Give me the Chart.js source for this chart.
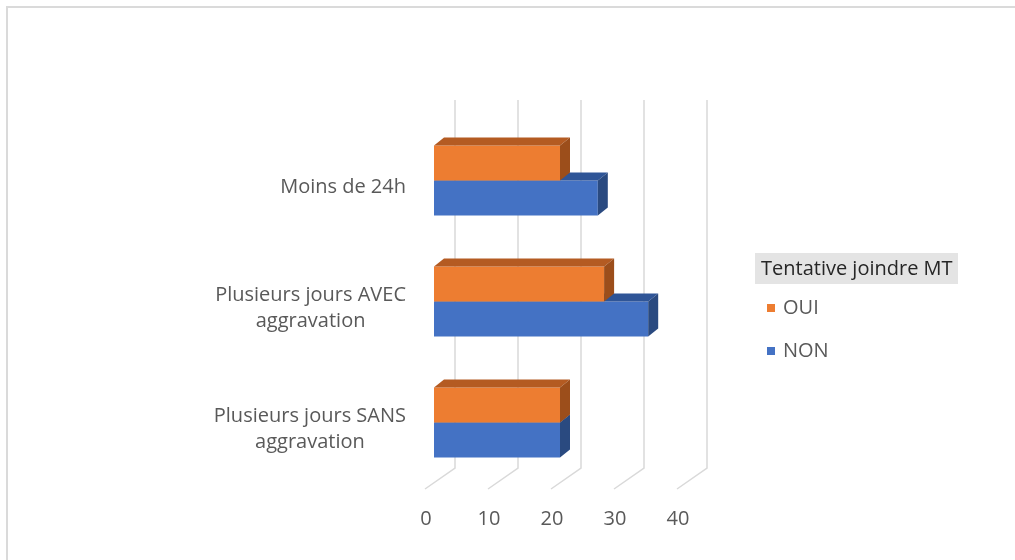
<!DOCTYPE html>
<html>
<head>
<meta charset="utf-8">
<script src="https://cdn.jsdelivr.net/npm/chart.js@4"></script>
<style>
  html, body { margin: 0; padding: 0; background: #fff; }
  canvas { display: block; }
</style>
</head>
<body>
<canvas id="graphique" width="1015" height="560"></canvas>
<script>
const categories = ['Moins de 24h', ['Plusieurs jours AVEC', 'aggravation'], ['Plusieurs jours SANS', 'aggravation']];
const serieOui = [20, 27, 20];
const serieNon = [26, 34, 20];
const ticksX = [0, 10, 20, 30, 40];
const titreLegende = 'Tentative joindre MT';

const POLICE = '"Open Sans", "DejaVu Sans", sans-serif';
const PROF_X = 10, PROF_Y = -8; // profondeur des barres 3D

// couleurs des faces (dessus, côté)
const faces = {
  OUI: { top: '#B45B22', side: '#9C4E1B' },
  NON: { top: '#2F5597', side: '#2A4A80' }
};

// cadre gris haut / gauche
const pluginCadre = {
  id: 'cadre',
  beforeDraw(chart) {
    const ctx = chart.ctx;
    ctx.save();
    ctx.fillStyle = '#DADADA';
    ctx.fillRect(6, 6, chart.width, 2);
    ctx.fillRect(6, 6, 2, chart.height);
    ctx.restore();
  }
};

// grille du fond + sol (effet 3D)
const pluginGrille = {
  id: 'grille3d',
  beforeDatasetsDraw(chart) {
    const { ctx, chartArea, scales } = chart;
    ctx.save();
    ctx.strokeStyle = '#D9D9D9';
    ctx.lineWidth = 1.5;
    scales.x.ticks.forEach(t => {
      const x = scales.x.getPixelForValue(t.value);
      ctx.beginPath();
      ctx.moveTo(x + 21, chartArea.top - 20);
      ctx.lineTo(x + 21, chartArea.bottom - 15);
      ctx.lineTo(x - 9, chartArea.bottom + 6);
      ctx.stroke();
    });
    ctx.restore();
  }
};

// faces dessus / côté des barres
const pluginBarres3d = {
  id: 'barres3d',
  afterDatasetDraw(chart, args) {
    const ctx = chart.ctx;
    const ds = chart.data.datasets[args.index];
    const f = faces[ds.label];
    ctx.save();
    args.meta.data.forEach(bar => {
      const gauche = Math.min(bar.base, bar.x);
      const droite = Math.max(bar.base, bar.x);
      const haut = bar.y - bar.height / 2;
      const bas = bar.y + bar.height / 2;
      ctx.fillStyle = f.top;
      ctx.beginPath();
      ctx.moveTo(gauche, haut);
      ctx.lineTo(gauche + PROF_X, haut + PROF_Y);
      ctx.lineTo(droite + PROF_X, haut + PROF_Y);
      ctx.lineTo(droite, haut);
      ctx.closePath();
      ctx.fill();
      ctx.fillStyle = f.side;
      ctx.beginPath();
      ctx.moveTo(droite, haut);
      ctx.lineTo(droite + PROF_X, haut + PROF_Y);
      ctx.lineTo(droite + PROF_X, bas + PROF_Y);
      ctx.lineTo(droite, bas);
      ctx.closePath();
      ctx.fill();
    });
    ctx.restore();
  }
};

// libellés des catégories : bloc aligné à droite, lignes centrées
const pluginLibelles = {
  id: 'libellesY',
  afterDraw(chart) {
    const { ctx, chartArea, scales } = chart;
    ctx.save();
    ctx.font = '20px ' + POLICE;
    ctx.fillStyle = '#595959';
    ctx.textAlign = 'center';
    ctx.textBaseline = 'middle';
    chart.data.labels.forEach((lab, i) => {
      const lignes = Array.isArray(lab) ? lab : [lab];
      const largeur = Math.max(...lignes.map(l => ctx.measureText(l).width));
      const cx = chartArea.left - 28 - largeur / 2;
      const cy = scales.y.getPixelForTick(i) + 7;
      lignes.forEach((l, k) => {
        ctx.fillText(l, cx, cy + (k - (lignes.length - 1) / 2) * 26);
      });
    });
    ctx.restore();
  }
};

// légende à droite avec titre sur fond gris
const pluginLegende = {
  id: 'legendeMT',
  afterDraw(chart) {
    const ctx = chart.ctx;
    ctx.save();
    ctx.fillStyle = '#E4E4E4';
    ctx.fillRect(755, 253, 203, 31);
    ctx.font = '20px ' + POLICE;
    ctx.textBaseline = 'middle';
    ctx.fillStyle = '#262626';
    ctx.fillText(titreLegende, 761, 269);
    chart.data.datasets.forEach((ds, i) => {
      const y = 308 + i * 43;
      ctx.fillStyle = ds.backgroundColor;
      ctx.fillRect(767, y - 4, 8, 8);
      ctx.fillStyle = '#595959';
      ctx.fillText(ds.label, 783, y);
    });
    ctx.restore();
  }
};

new Chart(document.getElementById('graphique'), {
  type: 'bar',
  data: {
    labels: categories,
    datasets: [
      { label: 'OUI', data: serieOui, backgroundColor: '#ED7D31' },
      { label: 'NON', data: serieNon, backgroundColor: '#4472C4' }
    ]
  },
  options: {
    indexAxis: 'y',
    responsive: false,
    animation: false,
    datasets: {
      bar: { categoryPercentage: 0.58, barPercentage: 1, borderWidth: 0 }
    },
    layout: {
      padding: { top: 120, left: 184, right: 329, bottom: 27 }
    },
    scales: {
      x: {
        min: 0,
        max: 40,
        afterBuildTicks: (scale) => { scale.ticks = ticksX.map(v => ({ value: v })); },
        afterFit: (scale) => { scale.height = 50; },
        grid: { display: false, drawTicks: false },
        border: { display: false },
        ticks: {
          labelOffset: -8,
          padding: 24,
          color: '#595959',
          font: { family: POLICE, size: 20 }
        }
      },
      y: {
        afterFit: (scale) => { scale.width = 250; },
        grid: { display: false, drawTicks: false },
        border: { display: false },
        ticks: { display: false }
      }
    },
    plugins: {
      legend: { display: false },
      tooltip: { enabled: false }
    }
  },
  plugins: [pluginCadre, pluginGrille, pluginBarres3d, pluginLibelles, pluginLegende]
});
</script>
</body>
</html>
